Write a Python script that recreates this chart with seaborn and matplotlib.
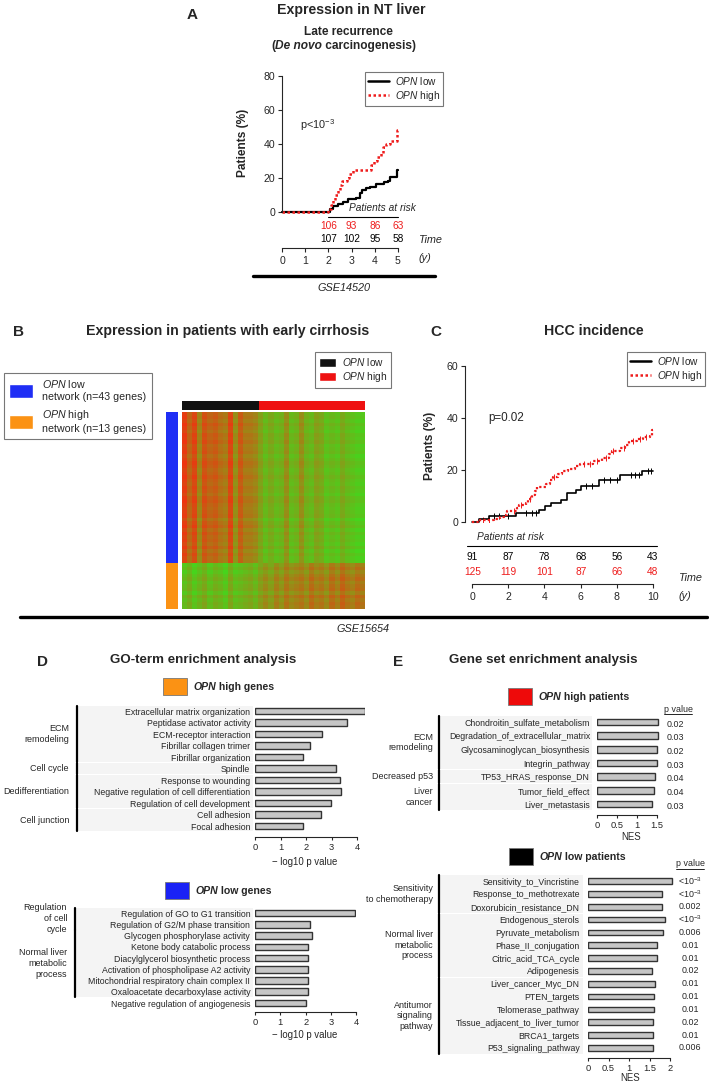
import numpy as np
import pandas as pd
import matplotlib
matplotlib.use("Agg")
import matplotlib.pyplot as plt
import seaborn as sns
from matplotlib.patches import Rectangle, Patch
from matplotlib.lines import Line2D
from matplotlib.colors import LinearSegmentedColormap, ListedColormap
from matplotlib.transforms import blended_transform_factory as blend

# ---------------- data ----------------
# A: late recurrence (GSE14520), cumulative % of patients
a_low_t = [0, 2.05, 2.2, 2.4, 2.65, 2.85, 3.2, 3.35, 3.45, 3.6, 3.8, 4.05, 4.4, 4.55, 4.65, 4.95, 5.0]
a_low_y = [0, 2, 3.5, 5, 6, 7.5, 8.5, 11, 13, 14, 15, 16.5, 17.5, 18.5, 20.5, 24.5, 24.5]
a_high_t = [0, 2.0, 2.1, 2.2, 2.3, 2.4, 2.5, 2.6, 2.8, 2.9, 3.05, 3.85, 3.95, 4.1, 4.25, 4.35, 4.5, 4.65, 4.95, 5.0]
a_high_y = [0, 1.5, 4, 7, 10, 13, 16, 18, 20, 22.5, 24.5, 27.5, 30, 32.5, 35, 38, 40, 41.5, 48.5, 48.5]
a_risk_t = [2, 3, 4, 5]
a_risk_high = [106, 93, 86, 63]
a_risk_low = [107, 102, 95, 58]

# C: HCC incidence (GSE15654)
c_low_t = [0, 0.4, 0.95, 2.4, 3.7, 4.05, 4.35, 4.9, 5.25, 5.75, 6.0, 7.0, 8.15, 9.4, 10]
c_low_y = [0, 1, 2.3, 3.3, 4.6, 6, 7.2, 8.5, 11, 12.5, 13.7, 16.2, 18, 19.6, 19.6]
c_high_t = [0, 0.45, 1.2, 1.55, 1.75, 1.95, 2.45, 2.6, 2.95, 3.1, 3.3, 3.45, 3.6, 4.1, 4.3, 4.45,
            4.75, 4.95, 5.3, 5.7, 5.95, 6.7, 7.2, 7.55, 7.75, 8.15, 8.45, 8.7, 9.1, 9.45, 9.85, 9.95, 10]
c_high_y = [0, 0.8, 1.2, 2.0, 2.8, 4.2, 5.5, 6.6, 7.5, 8.8, 10.5, 12, 13.5, 14.5, 16, 17.5,
            18.5, 19.5, 20.5, 21.5, 22.3, 23.3, 24.5, 26, 27.3, 28.5, 29.5, 31, 32, 32.8, 33.2, 35.5, 35.5]
c_low_cens = [1.2, 1.5, 2.0, 3.0, 3.3, 3.5, 6.3, 6.6, 7.3, 7.6, 8.0, 8.8, 9.0, 9.2, 9.7, 9.9]
c_high_cens = [0.6, 0.9, 2.3, 2.7, 3.2, 4.5, 6.2, 6.5, 6.9, 7.4, 7.8, 8.4, 8.9, 9.3, 9.6]
c_risk_t = [0, 2, 4, 6, 8, 10]
c_risk_low = [91, 87, 78, 68, 56, 43]
c_risk_high = [125, 119, 101, 87, 66, 48]

# B: heatmap (coarse read: column bins x gene rows), >0 red, <0 green
hm_cols_top = [0.9, 0.5, 0.8, 0.2, 0.7, 0.5, 0.6, 0.4, 0.3, 0.8, 0.1, 0.6, 0.3, 0.3, 0.2, -0.1, -0.4, -0.2,
               -0.4, -0.3, 0.1, -0.4, -0.3, 0.1, -0.3, -0.4, -0.1, -0.2, -0.5, -0.4, -0.5, -0.2, -0.4, -0.5, -0.6, -0.6]
hm_cols_bottom = [-0.5, -0.3, -0.6, -0.4, -0.2, -0.5, -0.3, -0.4, -0.6, -0.2, -0.5, -0.4, -0.3, -0.2, -0.4, -0.1, 0.1, -0.1,
                  0.2, 0.0, 0.3, 0.1, 0.2, 0.3, 0.1, 0.4, 0.2, 0.3, 0.1, 0.4, 0.2, 0.5, 0.3, 0.2, 0.4, 0.3]
hm_rows_top = [0.0, 0.05, -0.05, 0.1, 0.0, -0.1, 0.05, 0.0, 0.1, -0.05, 0.0, 0.05, -0.1, 0.0, 0.1, 0.05, -0.05, 0.0,
               0.1, 0.0, -0.05, 0.05, 0.0, -0.1, 0.05, 0.1, 0.0, -0.05, 0.0, 0.05, -0.15, 0.0, 0.1, -0.1, 0.05, -0.05,
               0.0, -0.1, 0.05, -0.15, 0.0, -0.1, -0.05]
hm_rows_bottom = [-0.1, 0.05, -0.15, 0.0, 0.1, -0.05, 0.05, 0.1, -0.1, 0.15, 0.0, 0.1, 0.05]
n_patients = [91, 125]  # OPN low, OPN high

# D: GO terms
go_high_terms = ["Extracellular matrix organization", "Peptidase activator activity", "ECM-receptor interaction",
                 "Fibrillar collagen trimer", "Fibrillar organization", "Spindle", "Response to wounding",
                 "Negative regulation of cell differentiation", "Regulation of cell development",
                 "Cell adhesion", "Focal adhesion"]
go_high_vals = [4.3, 3.6, 2.62, 2.14, 1.9, 3.17, 3.32, 3.37, 2.99, 2.58, 1.88]
go_high_groups = [("ECM\nremodeling", 0, 4), ("Cell cycle", 5, 5), ("Dedifferentiation", 6, 8), ("Cell junction", 9, 10)]

go_low_terms = ["Regulation of GO to G1 transition", "Regulation of G2/M phase transition",
                "Glycogen phosphorylase activity", "Ketone body catabolic process",
                "Diacylglycerol biosynthetic process", "Activation of phospholipase A2 activity",
                "Mitochondrial respiratory chain complex II", "Oxaloacetate decarboxylase activity",
                "Negative regulation of angiogenesis"]
go_low_vals = [3.93, 2.18, 2.24, 2.11, 2.11, 2.11, 2.11, 2.11, 2.02]
go_low_groups = [("Regulation\nof cell\ncycle", 0, 1), ("Normal liver\nmetabolic\nprocess", 2, 7)]

# E: GSEA
gs_high_sets = ["Chondroitin_sulfate_metabolism", "Degradation_of_extracellular_matrix",
                "Glycosaminoglycan_biosynthesis", "Integrin_pathway", "TP53_HRAS_response_DN",
                "Tumor_field_effect", "Liver_metastasis"]
gs_high_nes = [1.53, 1.52, 1.5, 1.5, 1.44, 1.43, 1.38]
gs_high_p = ["0.02", "0.03", "0.02", "0.03", "0.04", "0.04", "0.03"]
gs_high_groups = [("ECM\nremodeling", 0, 3), ("Decreased p53", 4, 4), ("Liver\ncancer", 5, 6)]

LT = r"<10$^{-3}$"
gs_low_sets = ["Sensitivity_to_Vincristine", "Response_to_methotrexate", "Doxorubicin_resistance_DN",
               "Endogenous_sterols", "Pyruvate_metabolism", "Phase_II_conjugation", "Citric_acid_TCA_cycle",
               "Adipogenesis", "Liver_cancer_Myc_DN", "PTEN_targets", "Telomerase_pathway",
               "Tissue_adjacent_to_liver_tumor", "BRCA1_targets", "P53_signaling_pathway"]
gs_low_nes = [2.04, 1.8, 1.8, 1.88, 1.82, 1.68, 1.68, 1.57, 1.63, 1.62, 1.62, 1.58, 1.58, 1.58]
gs_low_p = [LT, LT, "0.002", LT, "0.006", "0.01", "0.01", "0.02", "0.01", "0.01", "0.01", "0.02", "0.01", "0.006"]
gs_low_groups = [("Sensitivity\nto chemotherapy", 0, 2), ("Normal liver\nmetabolic\nprocess", 3, 7),
                 ("Antitumor\nsignaling\npathway", 8, 13)]

# ---------------- style ----------------
sns.set_style("white")
plt.rcParams["font.family"] = ["Liberation Sans", "DejaVu Sans"]
plt.rcParams["mathtext.fontset"] = "custom"
plt.rcParams["mathtext.rm"] = "Liberation Sans"
plt.rcParams["mathtext.it"] = "Liberation Sans:italic"
plt.rcParams["mathtext.bf"] = "Liberation Sans:bold"

RED = "#ee1c1c"
OPN = r"$\it{OPN}$"
TITLE = 9.6
TITLE_TOP = 10.2

W, H = 709, 1083
fig = plt.figure(figsize=(W / 100, H / 100), dpi=100)
ov = fig.add_axes([0, 0, 1, 1], zorder=-1)
ov.set_xlim(0, W)
ov.set_ylim(H, 0)
ov.axis("off")


def add_ax(l, t, r, b):
    ax = fig.add_axes([l / W, 1 - b / H, (r - l) / W, (b - t) / H])
    ax.set_facecolor("none")
    return ax


def hline(x0, x1, y, lw=0.8, color="k"):
    ov.add_line(Line2D([x0, x1], [y, y], lw=lw, color=color))


def chain(x, y, parts, size):
    prev = None
    for s, wt, st in parts:
        if prev is None:
            prev = ov.text(x, y, s, fontsize=size, fontweight=wt, fontstyle=st, ha="left", va="center")
        else:
            prev = ov.annotate(s, xy=(1, 0), xycoords=prev, fontsize=size, fontweight=wt,
                               fontstyle=st, ha="left", va="bottom")


def km_axes(ax, ymax, step):
    for s in ["top", "right", "bottom"]:
        ax.spines[s].set_visible(False)
    ax.spines["left"].set_linewidth(0.8)
    ax.set_ylim(0, ymax)
    ax.set_yticks(np.arange(0, ymax + 1, step))
    ax.set_xticks([])
    ax.tick_params(axis="y", direction="out", length=3, width=0.8, labelsize=7.6, pad=2, left=True)
    ax.set_xlabel("")
    ax.set_ylabel("")


def time_axis(l, r, y, xmax, ticks):
    ax = add_ax(l, y, r, y + 1)
    for s in ["top", "right", "left"]:
        ax.spines[s].set_visible(False)
    ax.spines["bottom"].set_linewidth(0.8)
    ax.set_xlim(0, xmax)
    ax.set_yticks([])
    ax.set_xticks(ticks)
    ax.tick_params(axis="x", direction="out", length=3, width=0.8, labelsize=7.6, pad=3, bottom=True)
    return ax


def km_legend(right, top):
    hs = [Line2D([], [], color="k", lw=1.8), Line2D([], [], color=RED, lw=1.8, ls=(0, (1, 1)))]
    lg = fig.legend(hs, [OPN + " low", OPN + " high"], loc="upper right",
                    bbox_to_anchor=(right / W, 1 - top / H), fontsize=7.3, frameon=True, fancybox=False,
                    handlelength=2.0, borderpad=0.3, labelspacing=0.15, handletextpad=0.6, borderaxespad=0)
    lg.get_frame().set_edgecolor("#555555")
    lg.get_frame().set_linewidth(0.8)


# ---------------- panel A ----------------
ov.text(192, 15, "A", fontsize=11, fontweight="bold", ha="center", va="center")
ov.text(351, 10, "Expression in NT liver", fontsize=TITLE_TOP, fontweight="bold", ha="center", va="center")
ov.text(348, 32, "Late recurrence", fontsize=8.6, fontweight="bold", ha="center", va="center")
chain(271, 46, [("(", "bold", "normal"), ("De novo", "bold", "italic"), (" carcinogenesis)", "bold", "normal")], 8.6)

axA = add_ax(282, 76, 398, 212)
sns.lineplot(x=a_low_t, y=a_low_y, drawstyle="steps-post", color="k", lw=1.6, estimator=None,
             sort=False, ax=axA, clip_on=False)
sns.lineplot(x=a_high_t, y=a_high_y, drawstyle="steps-post", color=RED, lw=1.8, ls=(0, (1, 1)),
             estimator=None, sort=False, ax=axA, clip_on=False)
axA.set_xlim(0, 5)
km_axes(axA, 80, 20)
ov.text(243, 143, "Patients (%)", fontsize=8.6, fontweight="bold", rotation=90, ha="center", va="center")
ov.text(300, 125, r"p<10$^{-3}$", fontsize=7.8, ha="left", va="center")
km_legend(443, 72)

trA = blend(axA.transData, ov.transData)
ov.text(382, 208, "Patients at risk", fontsize=7.3, fontstyle="italic", ha="center", va="center")
hline(328, 398, 217)
for t, hi, lo in zip(a_risk_t, a_risk_high, a_risk_low):
    ov.text(t, 226, str(hi), transform=trA, fontsize=7.3, color=RED, ha="center", va="center")
    ov.text(t, 239, str(lo), transform=trA, fontsize=7.3, color="k", ha="center", va="center")
time_axis(282, 398, 247, 5, range(0, 6))
ov.text(418, 240, "Time", fontsize=7.8, fontstyle="italic", ha="left", va="center")
ov.text(418, 258, "(y)", fontsize=7.8, fontstyle="italic", ha="left", va="center")
hline(253, 435, 276, lw=2.4)
ov.text(344, 288, "GSE14520", fontsize=7.8, fontstyle="italic", ha="center", va="center")

# ---------------- panel B ----------------
ov.text(18, 332, "B", fontsize=11, fontweight="bold", ha="center", va="center")
ov.text(228, 331, "Expression in patients with early cirrhosis", fontsize=TITLE_TOP, fontweight="bold",
        ha="center", va="center")

hm = np.vstack([np.add.outer(hm_rows_top, hm_cols_top), np.add.outer(hm_rows_bottom, hm_cols_bottom)])
rg = LinearSegmentedColormap.from_list("rg", ["#2ee81e", "#8c9818", "#ee3410"])
axH = add_ax(182, 412, 365, 609)
sns.heatmap(hm, cmap=rg, vmin=-1, vmax=1, cbar=False, xticklabels=False, yticklabels=False, ax=axH)

col_groups = np.repeat([0, 1], n_patients).reshape(1, -1)
axTop = add_ax(182, 401, 365, 410)
sns.heatmap(col_groups, cmap=ListedColormap(["#111111", "#ee1111"]), vmin=0, vmax=1, cbar=False,
            xticklabels=False, yticklabels=False, ax=axTop)
row_groups = np.repeat([0, 1], [len(hm_rows_top), len(hm_rows_bottom)]).reshape(-1, 1)
axSide = add_ax(166, 412, 178, 609)
sns.heatmap(row_groups, cmap=ListedColormap(["#1f2ef5", "#fb9214"]), vmin=0, vmax=1, cbar=False,
            xticklabels=False, yticklabels=False, ax=axSide)

hsB = [Patch(facecolor="#1f2ef5"), Patch(facecolor="#fb9214")]
lgB = fig.legend(hsB, [OPN + " low\nnetwork (n=43 genes)", OPN + " high\nnetwork (n=13 genes)"],
                 loc="upper left", bbox_to_anchor=(4 / W, 1 - 373 / H), fontsize=7.7, frameon=True,
                 fancybox=False, handlelength=2.2, handleheight=1.6, labelspacing=0.6, borderpad=0.5,
                 handletextpad=0.9, borderaxespad=0)
lgB.get_frame().set_edgecolor("#555555")
lgB.get_frame().set_linewidth(0.8)
hsB2 = [Patch(facecolor="#111111"), Patch(facecolor="#ee1111")]
lgB2 = fig.legend(hsB2, [OPN + " low", OPN + " high"], loc="upper left", bbox_to_anchor=(315 / W, 1 - 352 / H),
                  fontsize=7.3, frameon=True, fancybox=False, handlelength=1.7, handleheight=1.0,
                  labelspacing=0.25, borderpad=0.35, handletextpad=0.6, borderaxespad=0)
lgB2.get_frame().set_edgecolor("#555555")
lgB2.get_frame().set_linewidth(0.8)

# ---------------- panel C ----------------
ov.text(436, 332, "C", fontsize=11, fontweight="bold", ha="center", va="center")
ov.text(594, 331, "HCC incidence", fontsize=TITLE_TOP, fontweight="bold", ha="center", va="center")
axC = add_ax(465, 366, 653, 522)
sns.lineplot(x=c_low_t, y=c_low_y, drawstyle="steps-post", color="k", lw=1.2, estimator=None,
             sort=False, ax=axC, clip_on=False)
sns.lineplot(x=c_high_t, y=c_high_y, drawstyle="steps-post", color=RED, lw=1.6, ls=(0, (1, 1)),
             estimator=None, sort=False, ax=axC, clip_on=False)


def step_at(ts, ys, q):
    idx = np.searchsorted(ts, q, side="right") - 1
    return np.asarray(ys)[idx]


sns.scatterplot(x=c_low_cens, y=step_at(c_low_t, c_low_y, c_low_cens), marker="|", s=14, color="k",
                linewidth=0.7, ax=axC)
sns.scatterplot(x=c_high_cens, y=step_at(c_high_t, c_high_y, c_high_cens), marker="|", s=14, color=RED,
                linewidth=0.7, ax=axC)
axC.set_xlim(-0.4, 10)
km_axes(axC, 60, 20)
ov.text(430, 446, "Patients (%)", fontsize=8.6, fontweight="bold", rotation=90, ha="center", va="center")
ov.text(488, 418, "p=0.02", fontsize=8.4, ha="left", va="center")
km_legend(705, 352)

trC = blend(axC.transData, ov.transData)
ov.text(477, 537, "Patients at risk", fontsize=7.3, fontstyle="italic", ha="left", va="center")
hline(467, 657, 546)
for t, lo, hi in zip(c_risk_t, c_risk_low, c_risk_high):
    ov.text(t, 557, str(lo), transform=trC, fontsize=7.3, color="k", ha="center", va="center")
    ov.text(t, 572, str(hi), transform=trC, fontsize=7.3, color=RED, ha="center", va="center")
time_axis(472, 653, 583, 10, range(0, 11, 2))
ov.text(678, 578, "Time", fontsize=7.8, fontstyle="italic", ha="left", va="center")
ov.text(678, 596, "(y)", fontsize=7.8, fontstyle="italic", ha="left", va="center")

hline(20, 707, 617, lw=2.4)
ov.text(363, 629, "GSE15654", fontsize=7.8, fontstyle="italic", ha="center", va="center")


# ---------------- bar panels ----------------
def bar_panel(box, terms, vals, groups, xmax, ticks, tick_max, bottom, width, pad,
              bracket_x, band_r, label_x, pvals=None, p_x=None, p_dy=0.0):
    ax = add_ax(*box)
    df = pd.DataFrame({"term": terms, "val": vals})
    sns.barplot(data=df, x="val", y="term", orient="h", color="#c6c6c6", saturation=1,
                edgecolor="#333333", linewidth=1.0, width=width, ax=ax)
    n = len(terms)
    ax.set_xlim(0, xmax)
    ax.set_ylim(n - 1 + bottom, -0.5)
    for s in ["top", "right", "left"]:
        ax.spines[s].set_visible(False)
    ax.spines["bottom"].set_bounds(0, tick_max)
    ax.spines["bottom"].set_linewidth(0.8)
    ax.set_xticks(ticks)
    ax.set_xticklabels([("%g" % t) for t in ticks])
    ax.tick_params(axis="x", direction="out", length=2.5, width=0.8, labelsize=6.7, pad=2, bottom=True)
    ax.tick_params(axis="y", length=0, pad=pad, labelsize=6.3)
    ax.set_xlabel("")
    ax.set_ylabel("")
    tr = blend(ov.transData, ax.transData)
    for name, i0, i1 in groups:
        ov.add_patch(Rectangle((bracket_x + 1, i0 - 0.47), band_r - bracket_x - 1, i1 - i0 + 0.94,
                               transform=tr, facecolor="#f4f4f4", edgecolor="none"))
        ov.add_line(Line2D([bracket_x, bracket_x], [i0 - 0.47, i1 + 0.47], transform=tr, color="k", lw=1.6))
        ov.text(label_x, (i0 + i1) / 2, name, transform=tr, fontsize=6.5, ha="right", va="center",
                linespacing=1.25)
    if pvals is not None:
        for i, p in enumerate(pvals):
            ov.text(p_x, i + p_dy, p, transform=tr, fontsize=6.4, ha="center", va="center")
    return ax


def key_square(x, y, color, parts):
    ov.add_patch(Rectangle((x, y), 24, 17, facecolor=color, edgecolor="#777777", lw=0.6))
    chain(x + 30, y + 9, parts, 7.6)


# D
ov.text(43, 662, "D", fontsize=11, fontweight="bold", ha="center", va="center")
ov.text(203, 660, "GO-term enrichment analysis", fontsize=TITLE, fontweight="bold", ha="center", va="center")
key_square(163, 678, "#fb9214", [("OPN", "bold", "italic"), (" high genes", "bold", "normal")])
bar_panel((255, 705.25, 364.7, 837), go_high_terms, go_high_vals, go_high_groups, 4.3, range(0, 5), 4,
          0.95, 0.58, 3.5, 77, 253, 69)
ov.text(305, 862, "\u2212 log10 p value", fontsize=6.9, ha="center", va="center")

key_square(165, 882, "#1a22f5", [("OPN", "bold", "italic"), (" low genes", "bold", "normal")])
bar_panel((255, 907.4, 356.3, 1012), go_low_terms, go_low_vals, go_low_groups, 4.0, range(0, 5), 4,
          0.8, 0.58, 3.5, 75, 253, 67)
ov.text(305, 1035, "\u2212 log10 p value", fontsize=6.9, ha="center", va="center")

# E
ov.text(398, 662, "E", fontsize=11, fontweight="bold", ha="center", va="center")
ov.text(543, 660, "Gene set enrichment analysis", fontsize=TITLE, fontweight="bold", ha="center", va="center")
key_square(508, 688, "#ee0a0a", [("OPN", "bold", "italic"), (" high patients", "bold", "normal")])
ov.text(678, 709, "p value", fontsize=6.4, ha="center", va="center")
hline(664, 692, 714, lw=0.6)
bar_panel((597, 715.2, 661, 815), gs_high_sets, gs_high_nes, gs_high_groups, 1.6, [0, 0.5, 1, 1.5], 1.5,
          0.8, 0.48, 5, 439, 592, 433, pvals=gs_high_p, p_x=675, p_dy=0.15)
ov.text(631, 837, "NES", fontsize=6.9, ha="center", va="center")

key_square(509, 848, "#000000", [("OPN", "bold", "italic"), (" low patients", "bold", "normal")])
ov.text(690, 864, "p value", fontsize=6.4, ha="center", va="center")
hline(676, 704, 869, lw=0.6)
bar_panel((588, 874.6, 674.1, 1058), gs_low_sets, gs_low_nes, gs_low_groups, 2.1, [0, 0.5, 1, 1.5, 2], 2,
          0.78, 0.45, 6, 439, 583, 433, pvals=gs_low_p, p_x=690)
ov.text(630, 1078, "NES", fontsize=6.9, ha="center", va="center")

fig.savefig("out.png", dpi=100)
